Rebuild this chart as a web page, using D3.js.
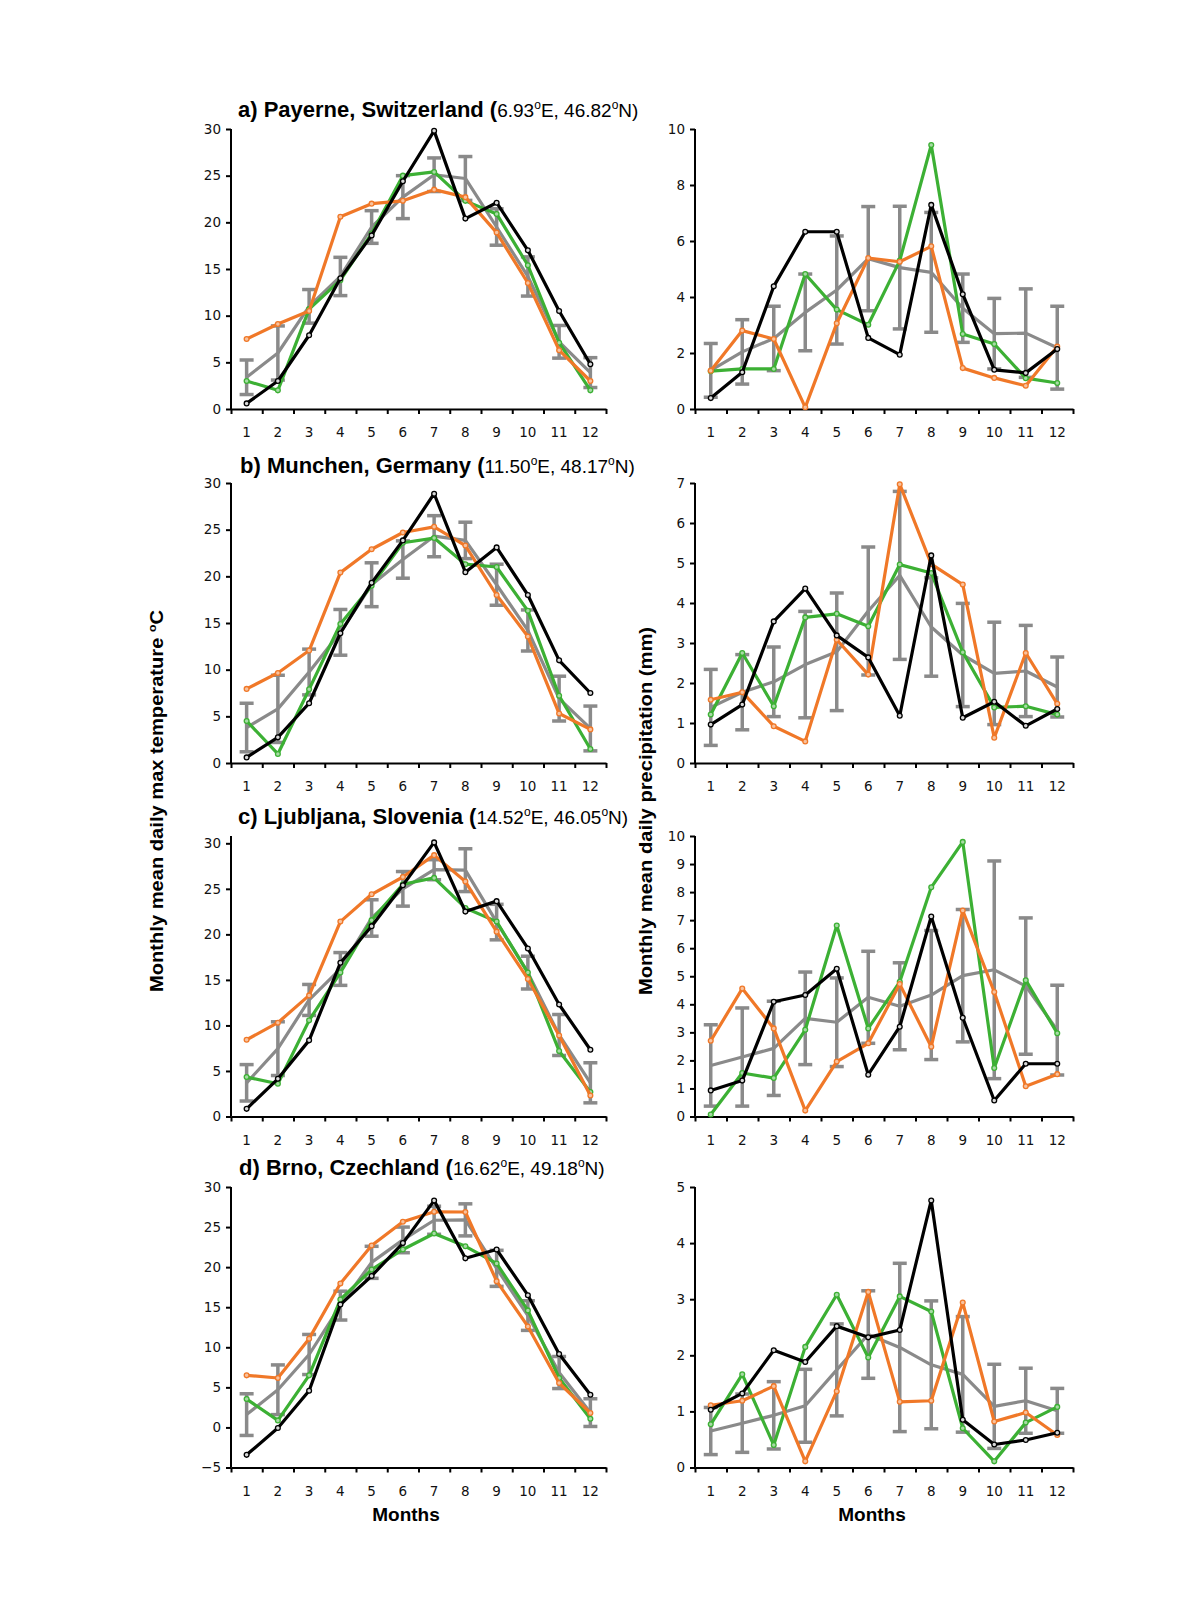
<!DOCTYPE html>
<html><head><meta charset="utf-8">
<script src="https://cdn.jsdelivr.net/npm/d3@7"></script>
<style>body{margin:0;background:#fff}</style>
</head><body>
<svg id="chart" width="1200" height="1600" xmlns="http://www.w3.org/2000/svg"></svg>
<script>
// ---------- DATA ----------
const months = [1,2,3,4,5,6,7,8,9,10,11,12];

const stationNames = ["a) Payerne, Switzerland (", "b) Munchen, Germany (", "c) Ljubljana, Slovenia (", "d) Brno, Czechland ("];
const stationCoords = ["6.93ºE, 46.82ºN)", "11.50ºE, 48.17ºN)", "14.52ºE, 46.05ºN)", "16.62ºE, 49.18ºN)"];

const tempTicksA = [0,5,10,15,20,25,30];
const tempTicksD = [-5,0,5,10,15,20,25,30];
const precTicksA = [0,2,4,6,8,10];
const precTicksB = [0,1,2,3,4,5,6,7];
const precTicksC = [0,1,2,3,4,5,6,7,8,9,10];
const precTicksD = [0,1,2,3,4,5];

// a) Payerne
const aTempBlack  = [0.6, 3.0, 7.9, 14.0, 18.6, 24.4, 29.8, 20.4, 22.1, 17.0, 10.5, 4.8];
const aTempGreen  = [3.0, 2.0, 10.7, 13.8, 18.8, 25.0, 25.4, 22.3, 20.9, 15.4, 7.1, 2.0];
const aTempOrange = [7.5, 9.1, 10.5, 20.6, 22.0, 22.3, 23.5, 22.7, 18.9, 13.5, 6.3, 3.0];
const aTempGrey   = [3.4, 6.0, 11.0, 14.2, 19.5, 22.7, 25.1, 24.7, 19.5, 14.2, 7.2, 3.9];
const aTempSd     = [1.85, 2.9, 1.8, 2.05, 1.75, 2.3, 1.8, 2.35, 1.95, 2.1, 1.75, 1.6];
const aPrecBlack  = [0.39, 1.31, 4.38, 6.33, 6.33, 2.54, 1.94, 7.29, 4.10, 1.40, 1.29, 2.14];
const aPrecGreen  = [1.35, 1.43, 1.43, 4.82, 3.55, 3.01, 5.3, 9.43, 2.68, 2.32, 1.10, 0.93];
const aPrecOrange = [1.37, 2.80, 2.50, 0.06, 3.06, 5.39, 5.26, 5.81, 1.46, 1.11, 0.83, 2.23];
const aPrecGrey   = [1.38, 2.04, 2.52, 3.45, 4.25, 5.37, 5.05, 4.88, 3.6, 2.69, 2.71, 2.19];
const aPrecSd     = [0.96, 1.15, 1.15, 1.37, 1.93, 1.86, 2.19, 2.14, 1.22, 1.26, 1.58, 1.48];

// b) Munchen
const bTempBlack  = [0.6, 2.75, 6.4, 13.9, 19.3, 23.85, 28.85, 20.45, 23.1, 18.0, 11.0, 7.5];
const bTempGreen  = [4.5, 0.97, 7.9, 14.9, 19.0, 23.6, 24.1, 21.3, 21.0, 16.3, 7.2, 1.5];
const bTempOrange = [7.94, 9.65, 12.05, 20.4, 22.9, 24.7, 25.3, 23.3, 18.0, 13.55, 5.3, 3.6];
const bTempGrey   = [3.8, 5.8, 9.75, 14.0, 19.1, 21.8, 24.3, 23.85, 19.1, 14.2, 6.9, 3.7];
const bTempSd     = [2.6, 3.6, 2.45, 2.45, 2.35, 2.0, 2.2, 1.95, 2.2, 2.2, 2.4, 2.4];
const bPrecBlack  = [0.96, 1.46, 3.54, 4.36, 3.19, 2.64, 1.18, 5.19, 1.13, 1.53, 0.93, 1.35];
const bPrecGreen  = [1.21, 2.75, 1.42, 3.64, 3.73, 3.42, 4.96, 4.75, 2.77, 1.39, 1.42, 1.21];
const bPrecOrange = [1.58, 1.77, 0.92, 0.54, 3.08, 2.21, 6.97, 4.97, 4.46, 0.63, 2.75, 1.48];
const bPrecGrey   = [1.39, 1.77, 2.03, 2.46, 2.78, 3.8, 4.69, 3.4, 2.7, 2.24, 2.3, 1.9];
const bPrecSd     = [0.95, 0.94, 0.87, 1.33, 1.47, 1.6, 2.1, 1.23, 1.29, 1.28, 1.14, 0.75];

// c) Ljubljana
const cTempBlack  = [0.84, 4.14, 8.36, 16.87, 20.9, 25.4, 30.1, 22.5, 23.65, 18.45, 12.3, 7.33];
const cTempGreen  = [4.33, 3.6, 10.56, 15.8, 21.56, 25.5, 26.2, 22.9, 21.4, 15.8, 7.2, 2.68];
const cTempOrange = [8.43, 10.3, 13.3, 21.4, 24.4, 26.3, 28.7, 25.8, 20.3, 15.1, 8.9, 2.3];
const cTempGrey   = [3.7, 7.45, 12.8, 16.2, 21.8, 25.0, 27.1, 27.05, 21.35, 15.8, 8.95, 3.7];
const cTempSd     = [2.0, 2.95, 1.7, 1.8, 2.0, 1.9, 1.1, 2.35, 1.95, 1.8, 2.25, 2.2];
const cPrecBlack  = [0.93, 1.28, 4.09, 4.33, 5.27, 1.49, 3.2, 7.13, 3.52, 0.57, 1.88, 1.88];
const cPrecGreen  = [0.07, 1.55, 1.37, 3.09, 6.81, 3.14, 4.8, 8.17, 9.79, 1.73, 4.86, 2.97];
const cPrecOrange = [2.7, 4.56, 3.14, 0.21, 1.96, 2.61, 4.72, 2.49, 7.34, 4.44, 1.08, 1.51];
const cPrecGrey   = [1.82, 2.12, 2.43, 3.5, 3.36, 4.25, 3.93, 4.33, 5.02, 5.23, 4.65, 3.08];
const cPrecSd     = [1.45, 1.75, 1.68, 1.65, 1.58, 1.64, 1.55, 2.3, 2.36, 3.88, 2.43, 1.6];

// d) Brno
const dTempBlack  = [-3.42, -0.08, 4.58, 15.33, 18.9, 23.0, 28.3, 21.1, 22.2, 16.5, 9.17, 4.08];
const dTempGreen  = [3.54, 0.88, 6.5, 15.96, 19.7, 22.2, 24.2, 22.6, 20.46, 14.6, 6.17, 1.08];
const dTempOrange = [6.5, 6.17, 11.08, 17.96, 22.7, 25.67, 26.9, 26.88, 18.25, 12.6, 5.54, 1.8];
const dTempGrey   = [1.6, 4.7, 9.1, 15.2, 20.6, 23.4, 25.85, 25.9, 19.85, 13.96, 6.85, 1.85];
const dTempSd     = [2.6, 3.1, 2.5, 1.8, 2.0, 1.6, 1.75, 2.0, 2.25, 1.85, 2.0, 1.73];
const dPrecBlack  = [1.03, 1.32, 2.09, 1.88, 2.52, 2.32, 2.45, 4.76, 0.85, 0.41, 0.49, 0.62];
const dPrecGreen  = [0.77, 1.66, 0.40, 2.15, 3.08, 1.96, 3.05, 2.78, 0.70, 0.11, 0.80, 1.08];
const dPrecOrange = [1.11, 1.19, 1.45, 0.11, 1.36, 3.13, 1.17, 1.19, 2.94, 0.82, 0.98, 0.58];
const dPrecGrey   = [0.65, 0.79, 0.93, 1.1, 1.74, 2.37, 2.14, 1.83, 1.66, 1.09, 1.19, 1.01];
const dPrecSd     = [0.42, 0.52, 0.6, 0.65, 0.82, 0.78, 1.5, 1.14, 1.03, 0.75, 0.58, 0.4];

// ---------- LAYOUT / STYLE ----------
const COLORS = {black:"#000000", green:"#3cb034", orange:"#f07828", grey:"#8a8a8a"};
const cols = [{x0:231, x1:606}, {x0:695, x1:1073}];
const rows = [{top:129, bottom:409, titleY:116.5},
              {top:483, bottom:763, titleY:473},
              {top:836, bottom:1116.5, titleY:824},
              {top:1187, bottom:1467.5, titleY:1175}];
const titleX = [238, 240, 238, 239];

const panelSpecs = [
  {temp:{black:aTempBlack, green:aTempGreen, orange:aTempOrange, grey:aTempGrey, sd:aTempSd, ticks:tempTicksA, dom:[0,30], topVal:30},
   prec:{black:aPrecBlack, green:aPrecGreen, orange:aPrecOrange, grey:aPrecGrey, sd:aPrecSd, ticks:precTicksA, dom:[0,10], topVal:10}},
  {temp:{black:bTempBlack, green:bTempGreen, orange:bTempOrange, grey:bTempGrey, sd:bTempSd, ticks:tempTicksA, dom:[0,30], topVal:30},
   prec:{black:bPrecBlack, green:bPrecGreen, orange:bPrecOrange, grey:bPrecGrey, sd:bPrecSd, ticks:precTicksB, dom:[0,7], topVal:7}},
  {temp:{black:cTempBlack, green:cTempGreen, orange:cTempOrange, grey:cTempGrey, sd:cTempSd, ticks:tempTicksA, dom:[0,30], topVal:30, tickTopY:843.3},
   prec:{black:cPrecBlack, green:cPrecGreen, orange:cPrecOrange, grey:cPrecGrey, sd:cPrecSd, ticks:precTicksC, dom:[0,10], topVal:10}},
  {temp:{black:dTempBlack, green:dTempGreen, orange:dTempOrange, grey:dTempGrey, sd:dTempSd, ticks:tempTicksD, dom:[-5,30], topVal:30},
   prec:{black:dPrecBlack, green:dPrecGreen, orange:dPrecOrange, grey:dPrecGrey, sd:dPrecSd, ticks:precTicksD, dom:[0,5], topVal:5}}
];

const svg = d3.select("#chart");
const TICK_FONT = "'DejaVu Sans', Verdana, sans-serif";
const LABEL_FONT = "'Liberation Sans', Arial, Helvetica, sans-serif";

function drawPanel(spec, col, row) {
  const g = svg.append("g");
  const x = d3.scaleBand().domain(months).range([col.x0, col.x1]);
  const xEdge = d3.scaleLinear().domain([0, 12]).range([col.x0, col.x1]);
  const topY = spec.tickTopY || row.top;
  const y = d3.scaleLinear().domain([spec.dom[0], spec.topVal]).range([row.bottom, topY]);

  g.append("line").attr("x1", col.x0).attr("x2", col.x0)
    .attr("y1", row.top).attr("y2", row.bottom)
    .attr("stroke", "#000").attr("stroke-width", 2);

  const yAxis = g.append("g").attr("transform", `translate(${col.x0},0)`)
    .call(d3.axisLeft(y).tickValues(spec.ticks).tickSize(5).tickPadding(5).tickSizeOuter(0).tickFormat(d3.format("d")));
  yAxis.select(".domain").remove();
  yAxis.selectAll("line").attr("stroke-width", 2);
  yAxis.selectAll("text").attr("font-family", TICK_FONT).attr("font-size", 13.5).attr("fill", "#111");

  const xTicks = g.append("g").attr("transform", `translate(0,${row.bottom})`)
    .call(d3.axisBottom(xEdge).tickValues(d3.range(0, 13)).tickSize(5).tickSizeOuter(0).tickFormat(""));
  xTicks.select(".domain").attr("stroke-width", 2);
  xTicks.selectAll("line").attr("stroke-width", 2);
  const xLab = g.append("g").attr("transform", `translate(0,${row.bottom})`)
    .call(d3.axisBottom(x).tickSize(0).tickPadding(18.5));
  xLab.select(".domain").remove();
  xLab.selectAll("text").attr("font-family", TICK_FONT).attr("font-size", 13.5).attr("fill", "#111");

  const cx = m => x(m) + x.bandwidth() / 2;
  const line = d3.line().x((d, i) => cx(months[i])).y(d => y(d));

  const cap = 7;
  const eb = g.append("g").attr("stroke", COLORS.grey).attr("stroke-width", 3.5).attr("fill", "none");
  spec.grey.forEach((m, i) => {
    const xc = cx(months[i]);
    const lo = y(m - spec.sd[i]), hi = y(m + spec.sd[i]);
    eb.append("line").attr("x1", xc).attr("x2", xc).attr("y1", lo).attr("y2", hi);
    eb.append("line").attr("x1", xc - cap).attr("x2", xc + cap).attr("y1", lo).attr("y2", lo);
    eb.append("line").attr("x1", xc - cap).attr("x2", xc + cap).attr("y1", hi).attr("y2", hi);
  });
  g.append("path").datum(spec.grey).attr("d", line)
    .attr("fill", "none").attr("stroke", COLORS.grey).attr("stroke-width", 3.2).attr("stroke-linejoin", "round");

  ["green", "orange", "black"].forEach(key => {
    const c = COLORS[key];
    g.append("path").datum(spec[key]).attr("d", line)
      .attr("fill", "none").attr("stroke", c).attr("stroke-width", 3.2).attr("stroke-linejoin", "round");
    const light = d3.interpolateRgb(c, "#ffffff")(key === "black" ? 0.85 : 0.55);
    g.selectAll(null).data(spec[key]).enter().append("circle")
      .attr("cx", (d, i) => cx(months[i])).attr("cy", d => y(d)).attr("r", 2.4)
      .attr("fill", light).attr("stroke", c).attr("stroke-width", 1.3);
  });
}

function drawTitle(i) {
  const t = svg.append("text").attr("x", titleX[i]).attr("y", rows[i].titleY)
    .attr("font-family", LABEL_FONT).attr("fill", "#000");
  t.append("tspan").attr("font-weight", "bold").attr("font-size", 22).text(stationNames[i]);
  const parts = stationCoords[i].split("º");
  parts.forEach((p, k) => {
    if (k > 0) {
      t.append("tspan").attr("font-size", 12).attr("dy", -8).text("o");
      t.append("tspan").attr("font-size", 19).attr("dy", 8).text(p);
    } else {
      t.append("tspan").attr("font-size", 19).text(p);
    }
  });
}

panelSpecs.forEach((p, i) => {
  drawPanel(p.temp, cols[0], rows[i]);
  drawPanel(p.prec, cols[1], rows[i]);
  drawTitle(i);
});

const yl = svg.append("text").attr("transform", "translate(163,801) rotate(-90)")
  .attr("text-anchor", "middle").attr("font-family", LABEL_FONT).attr("font-weight", "bold")
  .attr("font-size", 18).attr("textLength", 382).attr("lengthAdjust", "spacingAndGlyphs");
yl.append("tspan").text("Monthly mean daily max temperature ");
yl.append("tspan").attr("font-size", 11).attr("dy", -7).text("o");
yl.append("tspan").attr("dy", 7).text("C");

svg.append("text").attr("transform", "translate(652,811) rotate(-90)")
  .attr("text-anchor", "middle").attr("font-family", LABEL_FONT).attr("font-weight", "bold")
  .attr("font-size", 18).attr("textLength", 368).attr("lengthAdjust", "spacingAndGlyphs")
  .text("Monthly mean daily precipitation (mm)");

[406, 872].forEach(xc => {
  svg.append("text").attr("x", xc).attr("y", 1521).attr("text-anchor", "middle")
    .attr("font-family", LABEL_FONT).attr("font-weight", "bold").attr("font-size", 19).text("Months");
});
</script>
</body></html>
